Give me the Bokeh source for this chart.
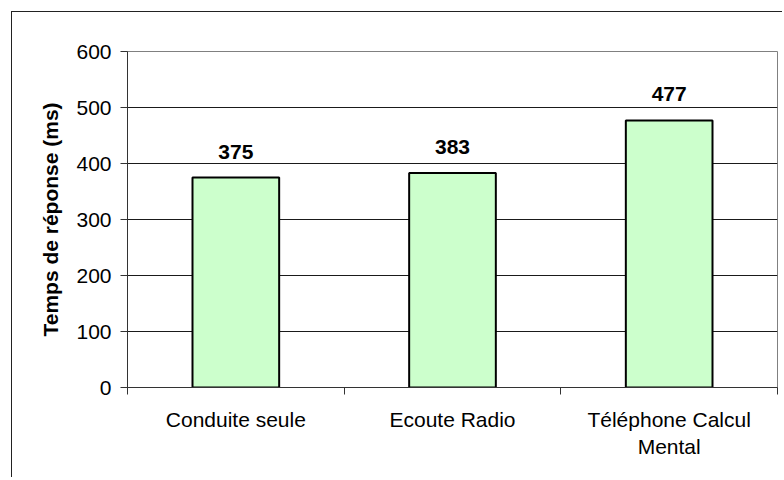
from bokeh.plotting import figure
from bokeh.models import (Range1d, LinearAxis, FixedTicker, ColumnDataSource,
                          CustomJSTickFormatter)
from bokeh.core.properties import value
from bokeh.embed import file_html
from bokeh.resources import INLINE

categories = ["Conduite seule", "Ecoute Radio", "Téléphone Calcul\nMental"]
temps_ms = [375, 383, 477]
y_ticks = [0, 100, 200, 300, 400, 500, 600]

FONT = "Liberation Sans"

n = len(categories)
centers = [i + 0.5 for i in range(n)]
src = ColumnDataSource(data=dict(x=centers, val=temps_ms,
                                 lbl=[str(v) for v in temps_ms]))

p = figure(width=771, height=466, x_range=Range1d(0, n),
           y_range=Range1d(0, 600), output_backend="svg", toolbar_location=None,
           x_axis_location=None, min_border_left=115, min_border_top=39,
           min_border_bottom=91, min_border_right=6)
p.styles = {"margin-left": "11px", "margin-top": "11px",
            "border-left": "1px solid #222", "border-top": "1px solid #222"}

p.background_fill_color = "white"
p.outline_line_color = "#808080"
p.outline_line_width = 1

# bars
p.vbar(x="x", top="val", width=0.4, source=src, fill_color="#CCFFCC",
       line_color="black", line_width=2)
p.text(x="x", y="val", text="lbl", source=src, text_align="center",
       text_baseline="alphabetic", y_offset=-26, text_font=value(FONT),
       text_font_size="21px", text_font_style="bold", text_color="black")

# y axis
ya = p.yaxis[0]
ya.ticker = FixedTicker(ticks=y_ticks)
ya.axis_label = "Temps de réponse (ms)"
ya.axis_label_text_font = FONT
ya.axis_label_text_font_size = "21px"
ya.axis_label_text_font_style = "bold"
ya.axis_label_text_color = "black"
ya.axis_label_standoff = 11
ya.major_label_text_font = FONT
ya.major_label_text_font_size = "21px"
ya.major_label_text_color = "black"
ya.major_label_standoff = 9
ya.major_tick_out = 7
ya.major_tick_in = 0
ya.minor_tick_line_color = None
ya.axis_line_color = "#333333"
ya.major_tick_line_color = "#333333"

p.ygrid.ticker = FixedTicker(ticks=y_ticks)
p.ygrid.grid_line_color = "#1a1a1a"
p.ygrid.grid_line_width = 1
p.xgrid.grid_line_color = None

# separator ticks between categories
sep_axis = LinearAxis(ticker=FixedTicker(ticks=list(range(n + 1))),
                      formatter=CustomJSTickFormatter(code="return ''"),
                      major_tick_out=7, major_tick_in=0,
                      minor_tick_line_color=None,
                      axis_line_color="#333333", major_tick_line_color="#333333",
                      major_label_text_font_size="1px", major_label_standoff=0)
p.add_layout(sep_axis, "below")

# category labels
cat_axis = LinearAxis(ticker=FixedTicker(ticks=centers),
                      major_label_overrides={c: lab for c, lab in zip(centers, categories)},
                      axis_line_color=None, major_tick_line_color=None,
                      minor_tick_line_color=None,
                      major_label_text_font=FONT,
                      major_label_text_font_size="21px",
                      major_label_text_color="black",
                      major_label_standoff=7)
p.add_layout(cat_axis, "below")

open("out.html", "w").write(file_html(p, INLINE))
